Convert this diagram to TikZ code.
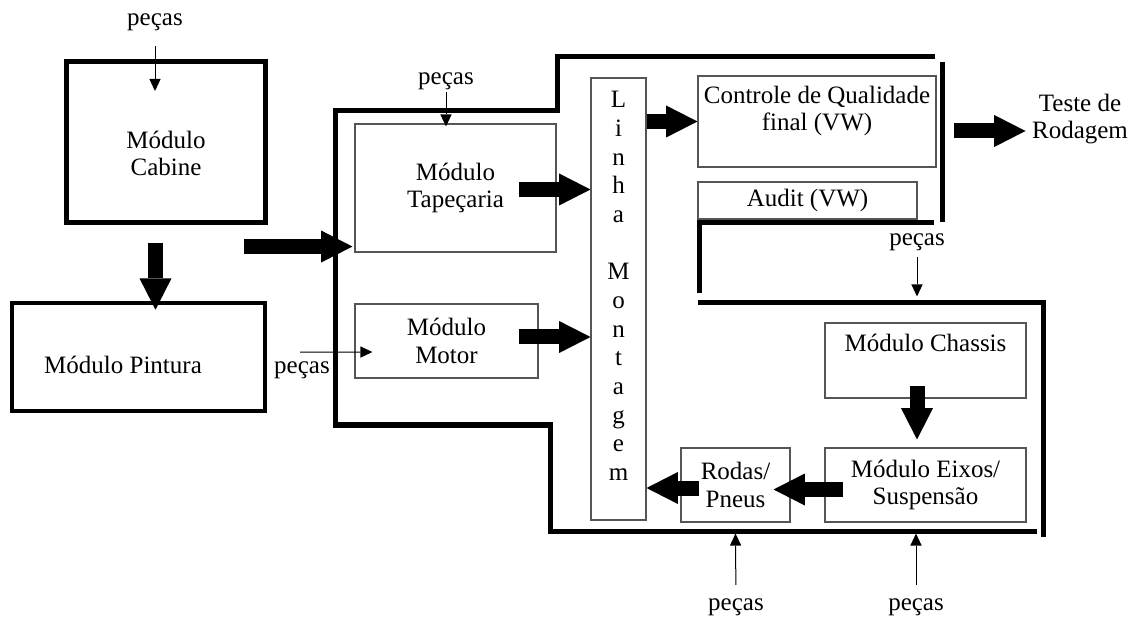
\documentclass[tikz,border=0pt]{standalone}
\usepackage{fontspec}
\setmainfont{Liberation Serif}
\usepackage{xcolor}
\definecolor{vwthin}{HTML}{555555}
\usetikzlibrary{arrows.meta,positioning,calc}
\tikzset{
  vwbox/.style={draw=vwthin,line width=0.8pt,inner sep=0pt,align=center},
  vwheavy/.style={draw,line width=3.4pt,inner sep=0pt,align=center},
  vwwall/.style={line width=3.75pt},
  vwflow/.style={line width=11.25pt,-{Triangle[length=23.5pt,width=24pt,line width=0pt]}},
  vwfeed/.style={line width=0.75pt,-{Triangle[length=9pt,width=8.5pt,line width=0pt]}},
  vwlabel/.style={inner sep=0pt},
}

\begin{document}
\begin{tikzpicture}[x=0.75pt,y=-0.75pt,every node/.style={font=\fontsize{18.75}{20.6}\selectfont}]
\useasboundingbox (0,0) rectangle (1135,623);

% cabine and paint shop
\node[vwheavy,minimum width=149.6pt,minimum height=121.1pt,
  label={[align=center,yshift=-8.6pt]center:Módulo\\Cabine}] (cabine) at (166,142) {};
\node[vwheavy,minimum width=189.75pt,minimum height=81pt,
  label={[xshift=-11.6pt,yshift=-6pt]center:Módulo Pintura}] (pintura) at (138.5,357) {};

% modules inside the plant
\node[vwbox,minimum width=150.75pt,minimum height=96pt] (tapecaria) at (455.5,188) {Módulo\\Tapeçaria};
\node[vwbox,minimum width=137.25pt,minimum height=55.5pt] (motor) at (446.5,341) {Módulo\\Motor};
\node[vwbox,minimum width=41.25pt,minimum height=331.5pt,
  label={[anchor=north,inner sep=0pt,yshift=-10.4pt,align=center,font=\fontsize{18.75}{21.5}\selectfont]north:L\\i\\n\\h\\a\\\mbox{}\\M\\o\\n\\t\\a\\g\\e\\m}] (linha) at (618.5,299) {};
\node[vwbox,minimum width=178.5pt,minimum height=68.25pt,
  label={[anchor=north,inner sep=0pt,yshift=-7.7pt,align=center]north:Controle de Qualidade\\final (VW)}] (cq) at (817,121.5) {};
\node[vwbox,minimum width=164.25pt,minimum height=27.75pt] (audit) at (807.5,200.5) {Audit (VW)};
\node[vwbox,minimum width=150.75pt,minimum height=56.25pt,
  label={[anchor=north,inner sep=0pt,yshift=-8.2pt]north:Módulo Chassis}] (chassis) at (925.5,360.5) {};
\node[vwbox,minimum width=150.75pt,minimum height=55.5pt] (eixos) at (925.5,485) {Módulo Eixos/\\Suspensão};
\node[vwbox,minimum width=81.75pt,minimum height=55.5pt] (rodas) at (735.5,485) {Rodas/\\Pneus};
\node[vwlabel,align=center] (teste) at (1080,119) {Teste de\\Rodagem};

% parts supply
\node[vwlabel] (pctop) at (155,22.5) {peças};
\node[vwlabel] (pctape) at (446,81) {peças};
\node[vwlabel] (pcmotor) at (302,370) {peças};
\node[vwlabel] (pcright) at (917,242) {peças};
\node[vwlabel] (pcrodas) at (736,607) {peças};
\node[vwlabel] (pceixos) at (916,607) {peças};

% plant outline
\draw[vwwall] (935,57) -- (557,57) -- (557,111) -- (335,111) -- (335,425) -- (550,425) -- (550,531) -- (1037,531);
\draw[vwwall] (942,62) -- (942,222);
\draw[vwwall] (934,223) -- (699,223) -- (699,293);
\draw[vwwall] (698,303) -- (1043,303) -- (1043,537);

% material flow
\draw[vwflow] ($(cabine.south)+(-10.5,18)$) -- ($(pintura.north)+(17,9)$);
\draw[vwflow] ($(tapecaria.south west)+(-110,-6)$) -- ($(tapecaria.south west)+(-2,-6)$);
\draw[vwflow] ($(tapecaria.east)+(-38,1.5)$) -- ($(linha.west |- tapecaria.east)+(0,1.5)$);
\draw[vwflow] ($(motor.east)+(-20,-4)$) -- ($(linha.west |- motor.east)+(0,-4)$);
\draw[vwflow] (linha.east |- cq.west) -- (cq.west);
\draw[vwflow] ($(cq.east)+(17,9.5)$) -- ($(cq.east)+(89,9.5)$);
\draw[vwflow] ($(chassis.south)+(-8.5,-12.5)$) -- ($(eixos.north)+(-8.5,-8)$);
\draw[vwflow] ($(eixos.west)+(19,4.5)$) -- ($(rodas.east)+(-17,4.5)$);
\draw[vwflow] ($(rodas.west)+(19,3)$) -- ($(linha.east |- rodas.west)+(0,3)$);

\draw[vwfeed,shorten <=11pt] (pctop) -- ($(cabine.north)+(-11,32)$);
\draw[vwfeed,shorten <=2pt] (pctape) -- ($(tapecaria.north)+(-9.5,3)$);
\draw[vwfeed] ($(pcmotor.north)+(-2,-9)$) -- ($(motor.west)+(18,11)$);
\draw[vwfeed,shorten <=5pt] (pcright) -- ($(chassis.north)+(-8.5,-26)$);
\draw[vwfeed,shorten <=10pt] (pcrodas) -- ($(rodas.south)+(0,11)$);
\draw[vwfeed,shorten <=10pt] (pceixos) -- ($(eixos.south)+(-9.5,11)$);
\end{tikzpicture}
\end{document}
